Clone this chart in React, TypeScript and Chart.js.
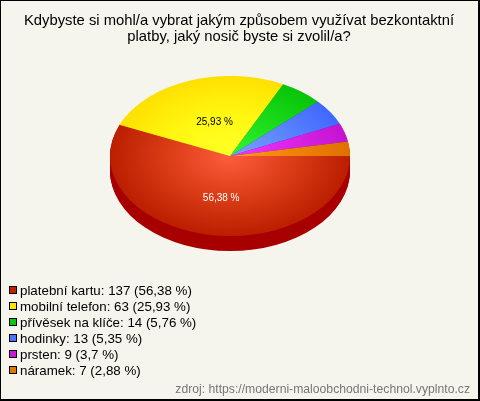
import React, { useEffect, useRef } from "react";
import { Chart, registerables } from "chart.js";

Chart.register(...registerables);

const titleLines = [
  "Kdybyste si mohl/a vybrat jakým způsobem využívat bezkontaktní",
  "platby, jaký nosič byste si zvolil/a?",
];
const categories = ["platební kartu", "mobilní telefon", "přívěsek na klíče", "hodinky", "prsten", "náramek"];
const counts = [137, 63, 14, 13, 9, 7];
const percents = [56.38, 25.93, 5.76, 5.35, 3.7, 2.88];
const swatchColors = ["#c32200", "#ffe600", "#0cc80c", "#4a74ff", "#cc18d8", "#e67800"];
const innerColors = ["#ff5c3e", "#ffff28", "#34f434", "#7ca0ff", "#f438ff", "#ff9c1c"];
const midColors = ["#dc3e18", "#fff812", "#1cdc1c", "#5c86ff", "#dc24e8", "#f08408"];
const outerColors = ["#bb1e00", "#ffe000", "#08c408", "#4068ff", "#c414d0", "#e07000"];
const sideColors = ["#a80000", "#b8a000", "#008000", "#2040b0", "#800090", "#a05000"];
const sourceText = "zdroj: https://moderni-maloobchodni-technol.vyplnto.cz";

const fmt = (v: number) => String(v).replace(".", ",");

const CX = 230;
const CY = 156;
const RADIUS = 120;
const SQUASH = 2 / 3;
const DEPTH = 15;
const FONT = "'Liberation Sans', Arial, sans-serif";

const piePlugin = {
  id: "pie3d",
  beforeDraw(chart: any) {
    const { ctx, width, height } = chart;
    ctx.save();
    ctx.fillStyle = "#f5f4ed";
    ctx.fillRect(0, 0, width, height);
    ctx.fillStyle = "#000";
    ctx.fillRect(0, 0, width, 1);
    ctx.fillRect(0, 0, 1, height);
    ctx.fillRect(width - 2, 0, 2, height);
    ctx.fillRect(0, height - 2, width, 2);
    ctx.restore();
  },
  beforeDatasetsDraw(chart: any) {
    const { ctx } = chart;
    const arcs = chart.getDatasetMeta(0).data;
    const x0 = arcs[0].x;
    const y0 = arcs[0].y;
    ctx.save();
    ctx.translate(CX, CY);
    ctx.scale(1, SQUASH);
    ctx.translate(-x0, -y0);
    for (let d = DEPTH; d >= 1; d--) {
      arcs.forEach((a: any, i: number) => {
        ctx.beginPath();
        ctx.moveTo(a.x, a.y + d / SQUASH);
        ctx.arc(a.x, a.y + d / SQUASH, a.outerRadius, a.startAngle, a.endAngle);
        ctx.closePath();
        ctx.fillStyle = sideColors[i];
        ctx.fill();
      });
    }
  },
  afterDatasetsDraw(chart: any) {
    const { ctx } = chart;
    ctx.restore();
    const arcs = chart.getDatasetMeta(0).data;
    ctx.save();
    ctx.font = `10px ${FONT}`;
    ctx.textAlign = "center";
    ctx.textBaseline = "middle";
    arcs.forEach((a: any, i: number) => {
      if (percents[i] < 10) return;
      const mid = (a.startAngle + a.endAngle) / 2;
      ctx.fillStyle = i === 0 ? "#ffffff" : "#000000";
      ctx.fillText(
        `${fmt(percents[i])} %`,
        CX + Math.cos(mid) * a.outerRadius * 0.37,
        CY + 3 + Math.sin(mid) * a.outerRadius * 0.33
      );
    });
    ctx.restore();
  },
  afterDraw(chart: any) {
    const { ctx } = chart;
    const boxes = chart.legend.legendHitBoxes;
    ctx.save();
    boxes.forEach((b: any, i: number) => {
      const top = Math.round(b.top + b.height / 2 - 5);
      ctx.fillStyle = "#000";
      ctx.fillRect(9, top, 8, 8);
      ctx.fillStyle = swatchColors[i];
      ctx.fillRect(10, top + 1, 6, 6);
    });
    ctx.restore();
  },
};

export default function App() {
  const ref = useRef<HTMLCanvasElement>(null);
  useEffect(() => {
    const canvas = ref.current!;
    const chart = new Chart(canvas, {
      type: "pie",
      plugins: [piePlugin],
      data: {
        labels: categories,
        datasets: [
          {
            data: counts,
            borderWidth: 0,
            backgroundColor: (c: any) => {
              const area = c.chart.chartArea;
              if (!area) return swatchColors[c.dataIndex];
              const x = (area.left + area.right) / 2;
              const y = (area.top + area.bottom) / 2;
              const g = c.chart.ctx.createRadialGradient(x, y, 0, x, y, RADIUS);
              g.addColorStop(0, innerColors[c.dataIndex]);
              g.addColorStop(0.5, midColors[c.dataIndex]);
              g.addColorStop(1, outerColors[c.dataIndex]);
              return g;
            },
          },
        ],
      },
      options: {
        responsive: false,
        animation: false,
        rotation: 90,
        radius: RADIUS,
        layout: { padding: { left: 8, right: 10, top: 0, bottom: 2 } },
        events: [],
        plugins: {
          tooltip: { enabled: false },
          title: {
            display: true,
            text: titleLines,
            color: "#000",
            font: { family: FONT, size: 14.8, weight: "normal", lineHeight: 1.08 },
            padding: { top: 13, bottom: 9 },
          },
          subtitle: {
            display: true,
            position: "bottom",
            align: "end",
            text: sourceText,
            color: "#777777",
            font: { family: FONT, size: 12.2, weight: "normal" },
            padding: { top: 2, bottom: 2 },
          },
          legend: {
            position: "left",
            align: "end",
            fullSize: false,
            labels: {
              color: "#000",
              boxWidth: 2.66,
              boxHeight: 8,
              padding: 2.67,
              font: { family: FONT, size: 13.33 },
              generateLabels: () =>
                categories.map((c, i) => ({
                  text: `${c}: ${counts[i]} (${fmt(percents[i])} %)`,
                  fillStyle: "transparent",
                  strokeStyle: "transparent",
                  lineWidth: 0,
                  hidden: false,
                  index: i,
                })),
            },
          },
        },
      },
    } as any);
    return () => chart.destroy();
  }, []);
  return (
    <canvas
      ref={ref}
      width={480}
      height={401}
      style={{ position: "absolute", left: 0, top: 0, display: "block" }}
    />
  );
}
